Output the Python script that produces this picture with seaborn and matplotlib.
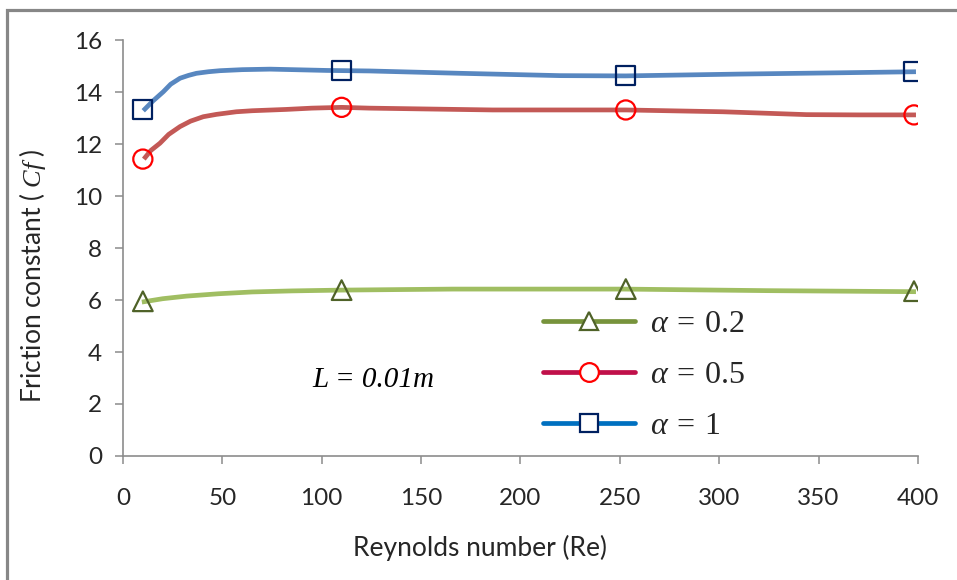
import matplotlib
matplotlib.use("Agg")
import matplotlib.pyplot as plt
from matplotlib.lines import Line2D
from matplotlib.patches import Rectangle
import pandas as pd
import seaborn as sns

# Smoothed friction-constant curves: (Re, Cf) samples along each curve
re_a02 = [9.5, 20, 32, 48, 65, 85, 109, 166, 200, 252, 324, 399]
cf_a02 = [5.92, 6.05, 6.15, 6.24, 6.31, 6.35, 6.38, 6.42, 6.42, 6.42, 6.36, 6.32]

re_a05 = [10.5, 14, 18.6, 23, 28.7, 34, 40.4, 47, 57, 65, 82, 95, 110, 124, 186, 253, 302, 325, 344, 370, 399]
cf_a05 = [11.42, 11.75, 12.03, 12.37, 12.67, 12.88, 13.05, 13.14, 13.24, 13.28, 13.33, 13.38, 13.41, 13.38,
          13.31, 13.31, 13.24, 13.18, 13.13, 13.12, 13.12]

re_a1 = [10.2, 15, 20.3, 24, 28.7, 33, 37, 43, 48.8, 60, 74, 102.5, 124, 169.6, 220, 253, 310, 361, 399]
cf_a1 = [13.28, 13.65, 14.01, 14.3, 14.53, 14.64, 14.72, 14.78, 14.82, 14.86, 14.88, 14.83, 14.81,
         14.72, 14.63, 14.62, 14.69, 14.74, 14.78]

# Computed points shown with markers
re_points = [10, 110, 253, 398]
cf_points_a02 = [5.95, 6.38, 6.42, 6.34]
cf_points_a05 = [11.42, 13.41, 13.31, 13.12]
cf_points_a1 = [13.32, 14.84, 14.62, 14.78]

labels = [r"$\alpha\:=\:0.2$", r"$\alpha\:=\:0.5$", r"$\alpha\:=\:1$"]
x_ticks = [0, 50, 100, 150, 200, 250, 300, 350, 400]
y_ticks = [0, 2, 4, 6, 8, 10, 12, 14, 16]

sns.set_style("white")
plt.rcParams["font.family"] = ["Lato", "DejaVu Sans"]
plt.rcParams["mathtext.fontset"] = "custom"
plt.rcParams["mathtext.rm"] = "Liberation Serif"
plt.rcParams["mathtext.it"] = "Liberation Serif:italic"
plt.rcParams["mathtext.sf"] = "Lato"

line_colors = ["#9BBB59", "#C0504D", "#4F81BD"]
marker_edges = ["#4F6228", "#FF0000", "#002060"]
legend_colors = ["#77933C", "#C0104A", "#0070C0"]
markers = ["^", "o", "s"]

fig = plt.figure(figsize=(9.57, 5.8), dpi=100)
ax = fig.add_axes([0.1285, 0.2138, 0.8307, 0.7172])

curves = [(re_a02, cf_a02), (re_a05, cf_a05), (re_a1, cf_a1)]
points = [cf_points_a02, cf_points_a05, cf_points_a1]

for (rx, cy), color in zip(curves, line_colors):
    df = pd.DataFrame({"Re": rx, "Cf": cy})
    sns.lineplot(data=df, x="Re", y="Cf", ax=ax, color=color, linewidth=3.4,
                 estimator=None, sort=True, solid_capstyle="butt",
                 solid_joinstyle="round", alpha=0.95)

for cy, mk, edge in zip(points, markers, marker_edges):
    df = pd.DataFrame({"Re": re_points, "Cf": cy})
    size = 190 if mk != "^" else 200
    sns.scatterplot(data=df, x="Re", y="Cf", ax=ax, marker=mk, s=size,
                    facecolors="none", edgecolor=edge, linewidth=1.6, zorder=5)

ax.set_xlim(0, 400)
ax.set_ylim(0, 16)
ax.set_xticks(x_ticks)
ax.set_yticks(y_ticks)
ax.set_xticklabels([str(v) for v in x_ticks])
ax.set_yticklabels([str(v) for v in y_ticks])

for side in ["top", "right"]:
    ax.spines[side].set_visible(False)
for side in ["left", "bottom"]:
    ax.spines[side].set_color("#8C8C8C")
    ax.spines[side].set_linewidth(1.2)

ax.tick_params(axis="both", direction="out", length=6, width=1.1,
               color="#8C8C8C", labelsize=17.5, labelcolor="#262626")
ax.tick_params(axis="x", pad=17, bottom=True)
ax.tick_params(axis="y", pad=9, left=True)

ax.set_xlabel("Reynolds number (Re)", fontsize=19, color="#262626")
ax.set_ylabel(r"$\mathsf{Friction\ constant\ (\ }\mathit{Cf}\mathsf{\ )}$",
              fontsize=19, color="#262626")
ax.xaxis.set_label_coords(0.449, -0.19)
ax.yaxis.set_label_coords(-0.094, 0.433)

ax.text(0.315, 0.182, "L = 0.01m", transform=ax.transAxes, ha="center",
        va="center", fontsize=21, family="Liberation Serif", style="italic",
        color="black")

handles = [
    Line2D([0], [0], color=lc, linewidth=3.4, marker=mk, markersize=13.5,
           markerfacecolor="white", markeredgecolor=me, markeredgewidth=1.6)
    for lc, mk, me in zip(legend_colors, markers, marker_edges)
]
leg = ax.legend(handles, labels, loc="center left",
                bbox_to_anchor=(0.50, 0.197), frameon=False, fontsize=23,
                handlelength=2.9, handletextpad=0.45, labelspacing=0.66,
                borderpad=0.2)

# grey outer frame (top and left edges visible)
fig.patches.append(Rectangle((7.5 / 957, -0.05), 1.2, 1 - 9.5 / 580 + 0.05,
                             transform=fig.transFigure, fill=False,
                             edgecolor="#878787", linewidth=2.3))

fig.savefig("out.png", dpi=100)
